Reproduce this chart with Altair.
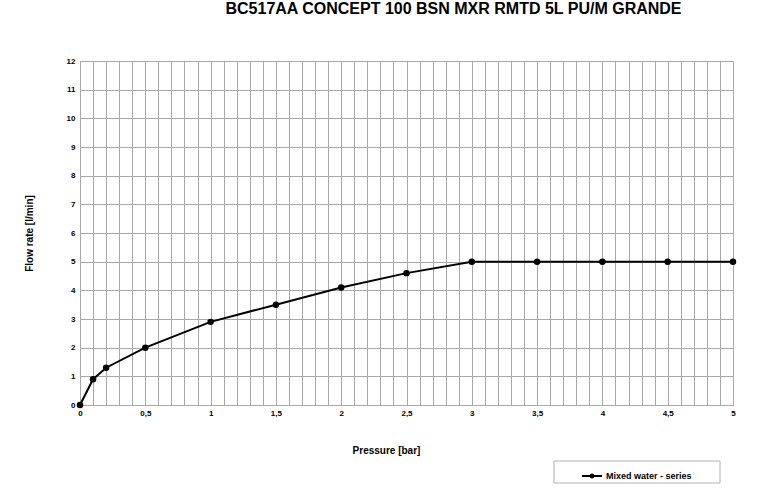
import altair as alt
import pandas as pd

pressure = [0, 0.1, 0.2, 0.5, 1, 1.5, 2, 2.5, 3, 3.5, 4, 4.5, 5]
flow = [0, 0.9, 1.3, 2.0, 2.9, 3.5, 4.1, 4.6, 5, 5, 5, 5, 5]
series_name = "Mixed water - series"
x_grid_values = [round(i * 0.1, 1) for i in range(51)]
y_values = list(range(13))

df = pd.DataFrame({"pressure": pressure, "flow": flow, "series": [series_name] * len(pressure)})

FONT = "Liberation Sans"

x_enc = alt.X(
    "pressure:Q",
    scale=alt.Scale(domain=[0, 5], nice=False),
    axis=alt.Axis(
        values=x_grid_values,
        labelExpr="abs(datum.value*2 - round(datum.value*2)) < 0.001 ? replace(toString(datum.value), '.', ',') : ''",
        title="Pressure [bar]",
        titleX=306, titleY=45, titleAlign="center", titleBaseline="middle",
        titleFont=FONT, titleFontSize=10, titleFontWeight="bold", titleColor="black",
        labelFont=FONT, labelFontSize=8, labelFontWeight="bold", labelColor="black",
        labelPadding=4, ticks=False, domain=False,
        grid=True, gridColor="#a8a8a8", gridWidth=1,
        labelOverlap=False, labelFlush=False,
    ),
)
y_enc = alt.Y(
    "flow:Q",
    scale=alt.Scale(domain=[0, 12], nice=False),
    axis=alt.Axis(
        values=y_values,
        title="Flow rate [l/min]",
        titleX=-51, titleY=172, titleAngle=-90, titleAlign="center", titleBaseline="middle",
        titleFont=FONT, titleFontSize=10, titleFontWeight="bold", titleColor="black",
        labelFont=FONT, labelFontSize=8, labelFontWeight="bold", labelColor="black",
        labelPadding=5, ticks=False, domain=False,
        grid=True, gridColor="#a8a8a8", gridWidth=1,
    ),
)

line = alt.Chart(df).mark_line(
    strokeWidth=2, point=alt.OverlayMarkDef(size=42, filled=True, color="black")
).encode(
    x=x_enc,
    y=y_enc,
    color=alt.Color(
        "series:N",
        scale=alt.Scale(range=["black"]),
        legend=alt.Legend(
            orient="none", legendX=501, legendY=404, title=None,
            symbolType="M-1,0H1M-0.15,0A0.15,0.15 0 1,0 0.15,0A0.15,0.15 0 1,0 -0.15,0Z",
            symbolSize=400, symbolStrokeWidth=2, symbolFillColor="black",
            labelFont=FONT, labelFontSize=9, labelFontWeight="bold", labelColor="black",
            labelOffset=3,
        ),
    ),
)

box = alt.Chart(pd.DataFrame({"a": [0]})).mark_rect(
    fill="white", stroke="#b0b0b0", strokeWidth=1, clip=False
).encode(
    x=alt.value(474), x2=alt.value(640), y=alt.value(400), y2=alt.value(422)
)

chart = alt.layer(box, line).properties(
    width=653, height=344,
    title=alt.TitleParams(
        "BC517AA CONCEPT 100 BSN MXR RMTD 5L PU/M GRANDE",
        font=FONT, fontSize=16, fontWeight="bold", color="black",
        anchor="middle", dx=47, offset=32, baseline="middle",
    ),
    autosize=alt.AutoSizeParams(type="none"),
    padding={"left": 80, "top": 61, "right": 29, "bottom": 90},
).configure_view(stroke="black", strokeWidth=2).configure(background="white")

chart.save("out.html", embed_options={"renderer": "svg", "actions": False})
